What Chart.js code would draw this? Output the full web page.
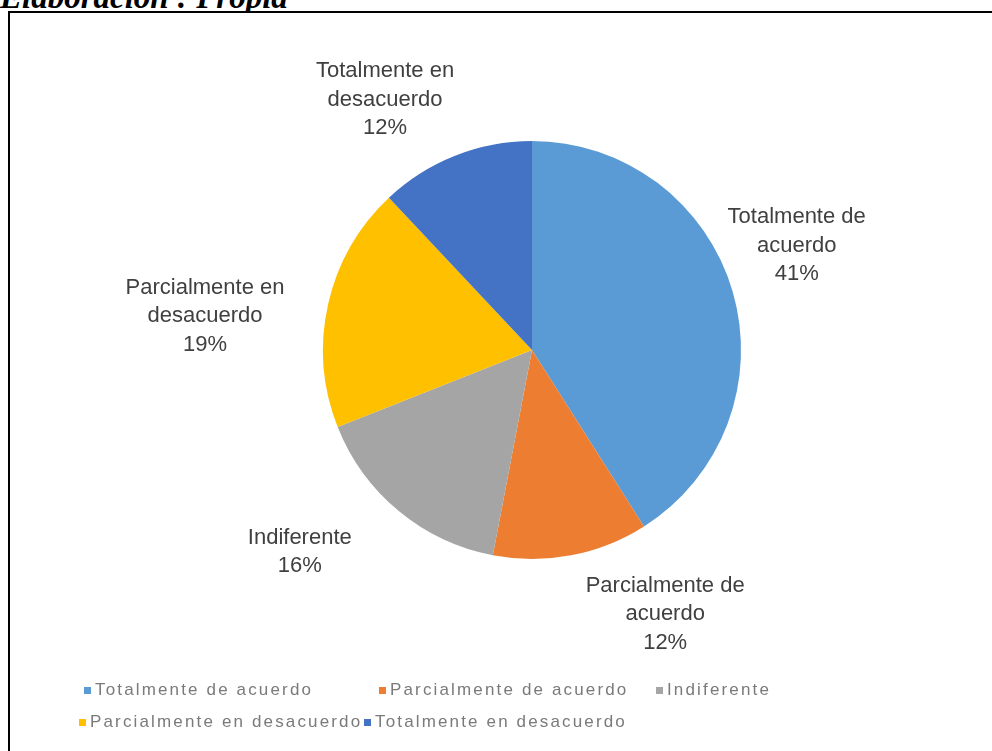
<!DOCTYPE html>
<html>
<head>
<meta charset="utf-8">
<script src="https://cdn.jsdelivr.net/npm/chart.js@4"></script>
<style>
  html, body { margin: 0; padding: 0; background: #fff; }
  body { width: 992px; height: 751px; position: relative; overflow: hidden; }
  #source {
    position: absolute; left: 0; top: -19px;
    font: italic bold 33px "Liberation Serif", "Times New Roman", serif;
    line-height: 1; color: #000; white-space: nowrap;
  }
  #frame {
    position: absolute; left: 8px; top: 11px; width: 1100px; height: 900px;
    border: 2px solid #000; box-sizing: border-box; background: #fff;
  }
  #chart { position: absolute; left: 0; top: 0; }
  #legend { position: absolute; left: 0; top: 0; width: 992px; height: 751px; pointer-events: none; }
  .item {
    position: absolute; display: flex; align-items: center; white-space: nowrap;
    font: 17px "Liberation Sans", Arial, sans-serif; letter-spacing: 2.15px; color: #7a7a7a;
  }
  .item i { display: inline-block; width: 7px; height: 7px; margin-right: 4px; }
</style>
</head>
<body>
<div id="source">Elaboración : Propia</div>
<div id="frame"></div>
<canvas id="chart" width="992" height="751"></canvas>
<div id="legend"></div>
<script>
// Survey answers, share of respondents (%)
const categories = [
  'Totalmente de acuerdo',
  'Parcialmente de acuerdo',
  'Indiferente',
  'Parcialmente en desacuerdo',
  'Totalmente en desacuerdo'
];
const shares = [41, 12, 16, 19, 12];
const sliceColors = ['#5B9BD5', '#ED7D31', '#A5A5A5', '#FFC000', '#4472C4'];

// Label placement: nudge from the outer midpoint of each slice (px)
const labelNudge = [[64, -46], [94, 59], [-99, 41], [-123, 12], [-70, -56]];
// Legend slots (left, top of each entry)
const legendSlots = [[84, 680], [379, 680], [656, 680], [79, 712], [364, 712]];

// Splits a category at its last space into two lines
function wrapLabel(text) {
  const i = text.lastIndexOf(' ');
  return i < 0 ? [text] : [text.slice(0, i), text.slice(i + 1)];
}

const sliceLabels = {
  id: 'sliceLabels',
  afterDatasetsDraw(chart) {
    const ctx = chart.ctx;
    const meta = chart.getDatasetMeta(0);
    const data = chart.data.datasets[0].data;
    const total = data.reduce((a, b) => a + b, 0);
    ctx.save();
    ctx.font = '22px "Liberation Sans", Arial, sans-serif';
    ctx.fillStyle = '#404040';
    ctx.textAlign = 'center';
    ctx.textBaseline = 'middle';
    const lineH = 28.5;
    meta.data.forEach((arc, i) => {
      const p = arc.getProps(['x', 'y', 'startAngle', 'endAngle', 'outerRadius'], true);
      const mid = (p.startAngle + p.endAngle) / 2;
      const cx = p.x + Math.cos(mid) * p.outerRadius + labelNudge[i][0];
      const cy = p.y + Math.sin(mid) * p.outerRadius + labelNudge[i][1];
      const lines = wrapLabel(chart.data.labels[i]);
      lines.push(Math.round(data[i] / total * 100) + '%');
      const y0 = cy - (lines.length - 1) * lineH / 2;
      lines.forEach((t, k) => ctx.fillText(t, cx, y0 + k * lineH));
    });
    ctx.restore();
  }
};

const chart = new Chart(document.getElementById('chart'), {
  type: 'pie',
  data: {
    labels: categories,
    datasets: [{
      data: shares,
      backgroundColor: sliceColors,
      borderWidth: 0
    }]
  },
  options: {
    responsive: false,
    animation: false,
    layout: { padding: { left: 323, right: 251, top: 141, bottom: 192 } },
    plugins: {
      legend: { display: false },
      tooltip: { enabled: false }
    }
  },
  plugins: [sliceLabels]
});

// Legend entries built from the chart's own label items
const legendBox = document.getElementById('legend');
chart.options.plugins.legend.labels.generateLabels(chart).forEach((it, i) => {
  const el = document.createElement('div');
  el.className = 'item';
  el.style.left = legendSlots[i][0] + 'px';
  el.style.top = legendSlots[i][1] + 'px';
  const sw = document.createElement('i');
  sw.style.background = it.fillStyle;
  el.appendChild(sw);
  el.appendChild(document.createTextNode(it.text));
  legendBox.appendChild(el);
});
</script>
</body>
</html>
